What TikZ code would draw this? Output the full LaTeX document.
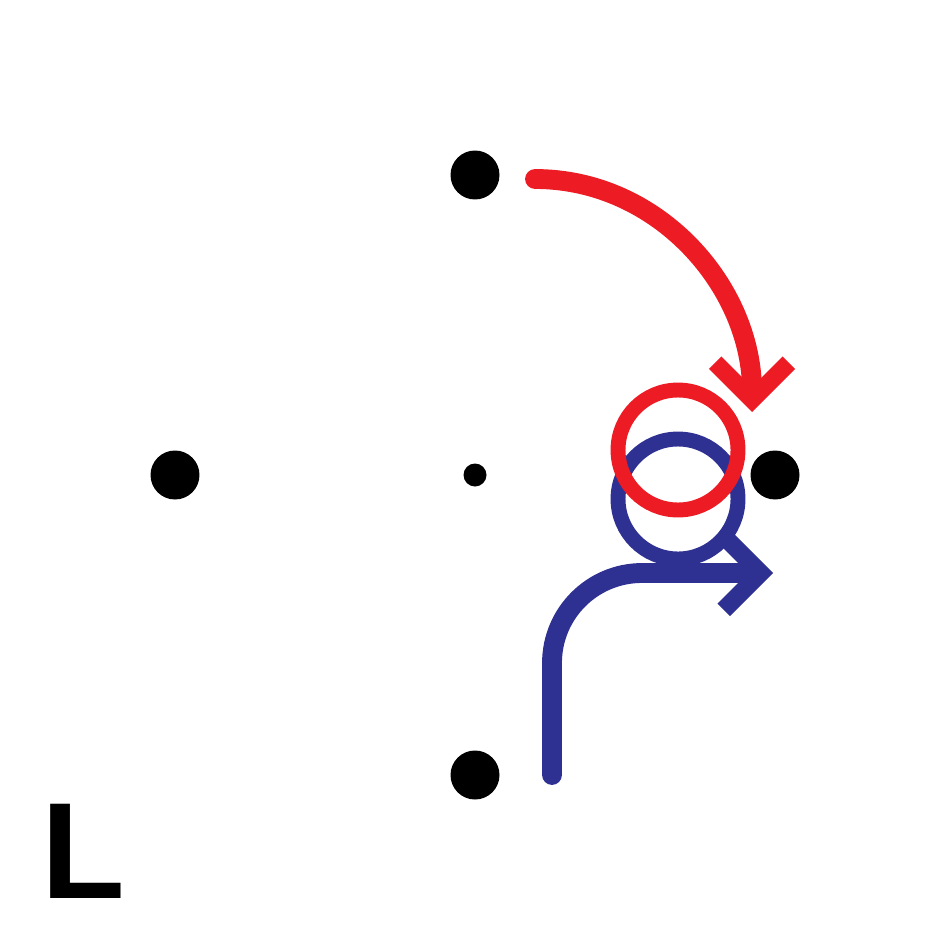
\documentclass[tikz,border=0pt]{standalone}
\usepackage{fontspec}
\setsansfont{Liberation Sans}
\usetikzlibrary{arrows.meta}
\definecolor{cred}{HTML}{ED1C24}
\definecolor{cblue}{HTML}{2E3192}
\tikzset{
  dot/.style={circle, fill=black, inner sep=0pt, minimum size=0.98cm},
  smalldot/.style={dot, minimum size=0.46cm},
  ring/.style={circle, draw=#1, line width=8.5pt, inner sep=0pt, minimum size=2.4cm},
  move/.style={draw=#1, line width=11.3pt, line cap=round, -{Straight Barb[sharp, length=21pt, width=42pt, line width=10pt]}},
  letter/.style={font=\sffamily\bfseries\fontsize{78}{78}\selectfont, inner sep=0pt, anchor=base west},
}
\begin{document}
\begin{tikzpicture}[x=0.02cm, y=-0.02cm]
  \useasboundingbox (0,0) rectangle (950,950);
  % lattice points
  \foreach \n/\x/\y in {top/475/175, left/175/475, right/775/475, bottom/475/775} \node[dot] (\n) at (\x,\y) {};
  \node[smalldot] (centre) at (475,475) {};
  % blue move
  \node[ring=cblue] (bluering) at (678,499) {};
  \coordinate (bluestart) at (552,775);
  \coordinate (blueend) at (773,573);
  \draw[move=cblue, rounded corners=1.8cm] (bluestart) |- (blueend);
  % red move
  \node[ring=cred] (redring) at (678,450) {};
  \coordinate (redstart) at (535,179);
  \coordinate (redend) at (752,412);
  \draw[move=cred] (redstart) to[out=0, in=90] (redend);
  \node[letter] (label) at (41,898) {L};
\end{tikzpicture}
\end{document}
